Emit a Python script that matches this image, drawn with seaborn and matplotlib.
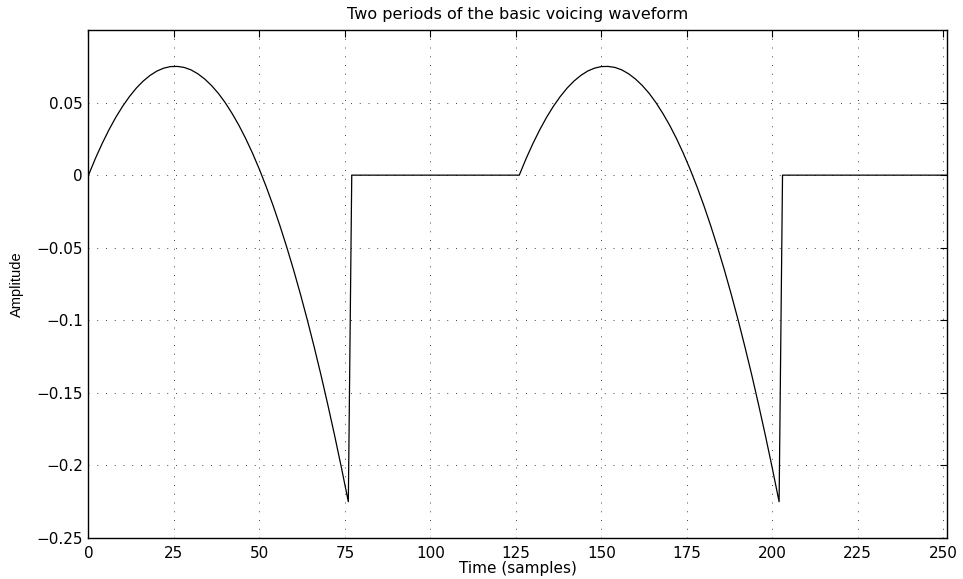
import matplotlib
matplotlib.use("Agg")
import matplotlib.pyplot as plt
import seaborn as sns
import pandas as pd

sns.set_style("white")
plt.rcParams["font.family"] = ["DejaVu Sans"]
plt.rcParams["text.color"] = "black"
plt.rcParams["axes.labelcolor"] = "black"

# one pulse (sample offset -> amplitude)
pulse_t = [0, 2, 4, 6, 8, 10, 12, 14, 16, 18, 20, 22, 24, 26, 28, 30, 32, 34, 36, 38,
           40, 42, 44, 46, 48, 50, 52, 54, 56, 58, 60, 62, 64, 66, 68, 70, 72, 74, 76]
pulse_v = [0.0, 0.0114, 0.0218, 0.0313, 0.0399, 0.0475, 0.0542, 0.0600, 0.0648, 0.0687,
           0.0717, 0.0737, 0.0748, 0.0749, 0.0742, 0.0725, 0.0698, 0.0662, 0.0617, 0.0563,
           0.0499, 0.0425, 0.0343, 0.0251, 0.0150, 0.0039, -0.0081, -0.0210, -0.0349, -0.0497,
           -0.0654, -0.0821, -0.0997, -0.1183, -0.1377, -0.1582, -0.1795, -0.2018, -0.225]

period_start = [0, 126]
closed_end = [126, 251]

t_all, v_all = [], []
for start, end in zip(period_start, closed_end):
    t_all += [start + t for t in pulse_t]
    v_all += pulse_v
    t_all += [start + pulse_t[-1] + 1, end]
    v_all += [0.0, 0.0]

df = pd.DataFrame({"Time": t_all, "Amplitude": v_all})

fig = plt.figure(figsize=(9.63, 5.79), dpi=100)
ax = fig.add_axes([0.0919, 0.0708, 0.8911, 0.8774])
sns.lineplot(data=df, x="Time", y="Amplitude", color="black", linewidth=0.9, ax=ax, sort=False)

ax.set_xlim(0, 251)
ax.set_ylim(-0.25, 0.1)
ax.set_xticks([0, 25, 50, 75, 100, 125, 150, 175, 200, 225, 250])
ax.set_yticks([-0.25, -0.2, -0.15, -0.1, -0.05, 0, 0.05])
ax.set_yticklabels(["\u22120.25", "\u22120.2", "\u22120.15", "\u22120.1", "\u22120.05", "0", "0.05"])
ax.grid(True, linestyle=(0, (1, 8)), color="#444444", linewidth=0.7)
ax.tick_params(direction="in", length=5, width=0.8, top=True, right=True,
               labelsize=11, colors="black")
ax.tick_params(axis="x", pad=5.5)
ax.tick_params(axis="y", pad=4)
for s in ax.spines.values():
    s.set_color("black")
    s.set_linewidth(1.0)

ax.set_xlabel("Time (samples)", fontsize=11, labelpad=0)
ax.set_ylabel("Amplitude", fontsize=10.5, family=["Liberation Sans"], labelpad=9)
ax.set_title("Two periods of the basic voicing waveform", fontsize=11.5, pad=8)

fig.savefig("out.png", dpi=100)
